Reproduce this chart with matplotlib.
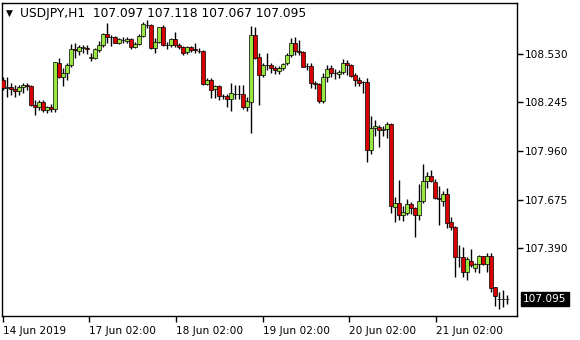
import matplotlib
matplotlib.use("Agg")
import matplotlib.pyplot as plt
import matplotlib.transforms as mtransforms

symbol = "USDJPY,H1"
last_price = 107.095
header_values = "107.097 107.118 107.067 107.095"

opens = [108.375, 108.329, 108.335, 108.323, 108.311, 108.335, 108.346, 108.340, 108.229, 108.218,
         108.247, 108.200, 108.218, 108.206, 108.475, 108.393, 108.416, 108.463, 108.557, 108.545,
         108.563, 108.563, 108.504, 108.504, 108.551, 108.580, 108.645, 108.627, 108.627, 108.592,
         108.610, 108.604, 108.615, 108.569, 108.586, 108.633, 108.697, 108.697, 108.563, 108.598,
         108.686, 108.580, 108.580, 108.615, 108.580, 108.569, 108.539, 108.569, 108.557, 108.545,
         108.545, 108.352, 108.375, 108.323, 108.340, 108.282, 108.282, 108.264, 108.294, 108.294,
         108.294, 108.218, 108.247, 108.639, 108.510, 108.405, 108.463, 108.463, 108.446, 108.428,
         108.446, 108.475, 108.522, 108.592, 108.545, 108.539, 108.457, 108.457, 108.358, 108.352,
         108.253, 108.393, 108.446, 108.416, 108.411, 108.422, 108.475, 108.463, 108.405, 108.375,
         108.364, 108.364, 107.966, 108.095, 108.101, 108.083, 108.089, 108.118, 107.633, 107.656,
         107.586, 107.597, 107.650, 107.627, 107.586, 107.668, 107.785, 107.814, 107.779, 107.685,
         107.668, 107.708, 107.545, 107.515, 107.340, 107.340, 107.252, 107.316, 107.276, 107.299,
         107.346, 107.299, 107.346, 107.164, 107.094, 107.094, 107.097]
highs = [108.393, 108.393, 108.358, 108.346, 108.346, 108.358, 108.358, 108.346, 108.258, 108.258,
         108.258, 108.223, 108.235, 108.481, 108.504, 108.446, 108.475, 108.586, 108.592, 108.580,
         108.580, 108.580, 108.534, 108.563, 108.604, 108.651, 108.709, 108.639, 108.633, 108.621,
         108.627, 108.627, 108.621, 108.598, 108.645, 108.715, 108.727, 108.703, 108.621, 108.686,
         108.697, 108.598, 108.621, 108.656, 108.592, 108.574, 108.574, 108.574, 108.592, 108.563,
         108.551, 108.387, 108.387, 108.346, 108.346, 108.294, 108.294, 108.358, 108.346, 108.346,
         108.346, 108.276, 108.691, 108.686, 108.534, 108.475, 108.534, 108.475, 108.457, 108.457,
         108.475, 108.534, 108.621, 108.627, 108.610, 108.545, 108.475, 108.475, 108.370, 108.358,
         108.416, 108.463, 108.463, 108.440, 108.434, 108.498, 108.493, 108.469, 108.416, 108.393,
         108.370, 108.387, 108.165, 108.142, 108.112, 108.106, 108.130, 108.124, 107.691, 107.790,
         107.638, 107.679, 107.662, 107.633, 107.767, 107.884, 107.837, 107.849, 107.796, 107.755,
         107.726, 107.744, 107.574, 107.521, 107.410, 107.398, 107.340, 107.387, 107.305, 107.352,
         107.346, 107.363, 107.363, 107.164, 107.135, 107.147, 107.118]
lows = [108.317, 108.276, 108.288, 108.276, 108.288, 108.299, 108.317, 108.223, 108.171, 108.200,
        108.188, 108.182, 108.188, 108.188, 108.387, 108.340, 108.375, 108.452, 108.504, 108.522,
        108.534, 108.528, 108.487, 108.498, 108.539, 108.569, 108.592, 108.574, 108.592, 108.586,
        108.592, 108.592, 108.557, 108.563, 108.580, 108.627, 108.680, 108.557, 108.534, 108.592,
        108.574, 108.557, 108.569, 108.569, 108.557, 108.522, 108.528, 108.539, 108.534, 108.534,
        108.346, 108.346, 108.270, 108.270, 108.258, 108.264, 108.218, 108.194, 108.264, 108.264,
        108.206, 108.194, 108.065, 108.498, 108.229, 108.393, 108.434, 108.416, 108.411, 108.411,
        108.434, 108.463, 108.510, 108.522, 108.522, 108.452, 108.434, 108.329, 108.323, 108.241,
        108.241, 108.364, 108.393, 108.381, 108.387, 108.411, 108.405, 108.393, 108.340, 108.340,
        108.299, 107.896, 107.943, 108.048, 107.984, 108.048, 108.036, 107.597, 107.545, 107.556,
        107.550, 107.586, 107.591, 107.457, 107.556, 107.656, 107.744, 107.779, 107.679, 107.527,
        107.638, 107.510, 107.498, 107.223, 107.281, 107.223, 107.205, 107.281, 107.252, 107.246,
        107.293, 107.252, 107.135, 107.053, 107.036, 107.047, 107.067]
closes = [108.329, 108.335, 108.323, 108.311, 108.335, 108.346, 108.340, 108.229, 108.218, 108.247,
          108.200, 108.218, 108.206, 108.481, 108.393, 108.416, 108.463, 108.557, 108.551, 108.569,
          108.569, 108.557, 108.510, 108.557, 108.580, 108.645, 108.627, 108.627, 108.592, 108.615,
          108.610, 108.615, 108.569, 108.586, 108.633, 108.703, 108.697, 108.563, 108.598, 108.686,
          108.580, 108.580, 108.615, 108.580, 108.569, 108.534, 108.569, 108.551, 108.551, 108.545,
          108.352, 108.375, 108.317, 108.340, 108.282, 108.282, 108.264, 108.299, 108.294, 108.294,
          108.218, 108.253, 108.639, 108.504, 108.405, 108.463, 108.463, 108.446, 108.434, 108.446,
          108.469, 108.522, 108.592, 108.545, 108.539, 108.452, 108.457, 108.358, 108.352, 108.253,
          108.393, 108.440, 108.416, 108.416, 108.422, 108.475, 108.463, 108.399, 108.375, 108.358,
          108.364, 107.966, 108.095, 108.106, 108.083, 108.089, 108.118, 107.638, 107.656, 107.586,
          107.603, 107.650, 107.627, 107.586, 107.668, 107.785, 107.814, 107.785, 107.685, 107.679,
          107.708, 107.539, 107.515, 107.340, 107.340, 107.252, 107.328, 107.293, 107.299, 107.346,
          107.299, 107.346, 107.158, 107.112, 107.094, 107.094, 107.095]

price_ticks = [108.530, 108.245, 107.960, 107.675, 107.390]
date_ticks = [0, 21.6, 43.25, 64.9, 86.6, 108.25]
date_labels = ["14 Jun 2019", "17 Jun 02:00", "18 Jun 02:00", "19 Jun 02:00",
               "20 Jun 02:00", "21 Jun 02:00"]

bull = "#99e640"
bear = "#d80000"

plt.rcParams["font.family"] = ["DejaVu Sans"]
fig = plt.figure(figsize=(5.8, 3.4), dpi=100)
ax = fig.add_axes([2 / 580, 24 / 340, 515 / 580, 313 / 340])

idx = list(range(len(closes)))
ax.vlines(idx, lows, highs, color="black", linewidth=1.0, zorder=2)
bottoms = [min(o, c) for o, c in zip(opens, closes)]
heights = [abs(c - o) for o, c in zip(opens, closes)]
colors = [bull if c > o else bear for o, c in zip(opens, closes)]
ax.bar(idx, heights, bottom=bottoms, width=0.78, color=colors,
       edgecolor="black", linewidth=0.5, zorder=3)

ax.set_xlim(-0.25, 128.5)
ax.set_ylim(106.995, 108.826)

ax.yaxis.tick_right()
ax.set_yticks(price_ticks)
ax.set_yticklabels([f"{p:.3f}" for p in price_ticks])
ax.set_xticks(date_ticks)
ax.set_xticklabels(date_labels, ha="left")
ax.tick_params(axis="both", direction="out", length=4, width=1, labelsize=7.6,
               colors="black", pad=2)
ax.tick_params(axis="x", pad=3)
for s in ax.spines.values():
    s.set_linewidth(1.0)
    s.set_color("black")

ax.text(0.008, 0.968, "\u25bc", transform=ax.transAxes, fontsize=6.5,
        va="center", ha="left", color="black")
ax.text(0.034, 0.968, symbol + "  " + header_values,
        transform=ax.transAxes, fontsize=8.8, va="center", ha="left", color="black")

trans = mtransforms.blended_transform_factory(ax.transAxes, ax.transData)
ax.text(1.012, last_price, f"{last_price:.3f}", transform=trans, fontsize=7.6,
        color="white", va="center", ha="left",
        bbox=dict(boxstyle="square,pad=0.2", fc="black", ec="black"))

fig.savefig("out.png", dpi=100)
